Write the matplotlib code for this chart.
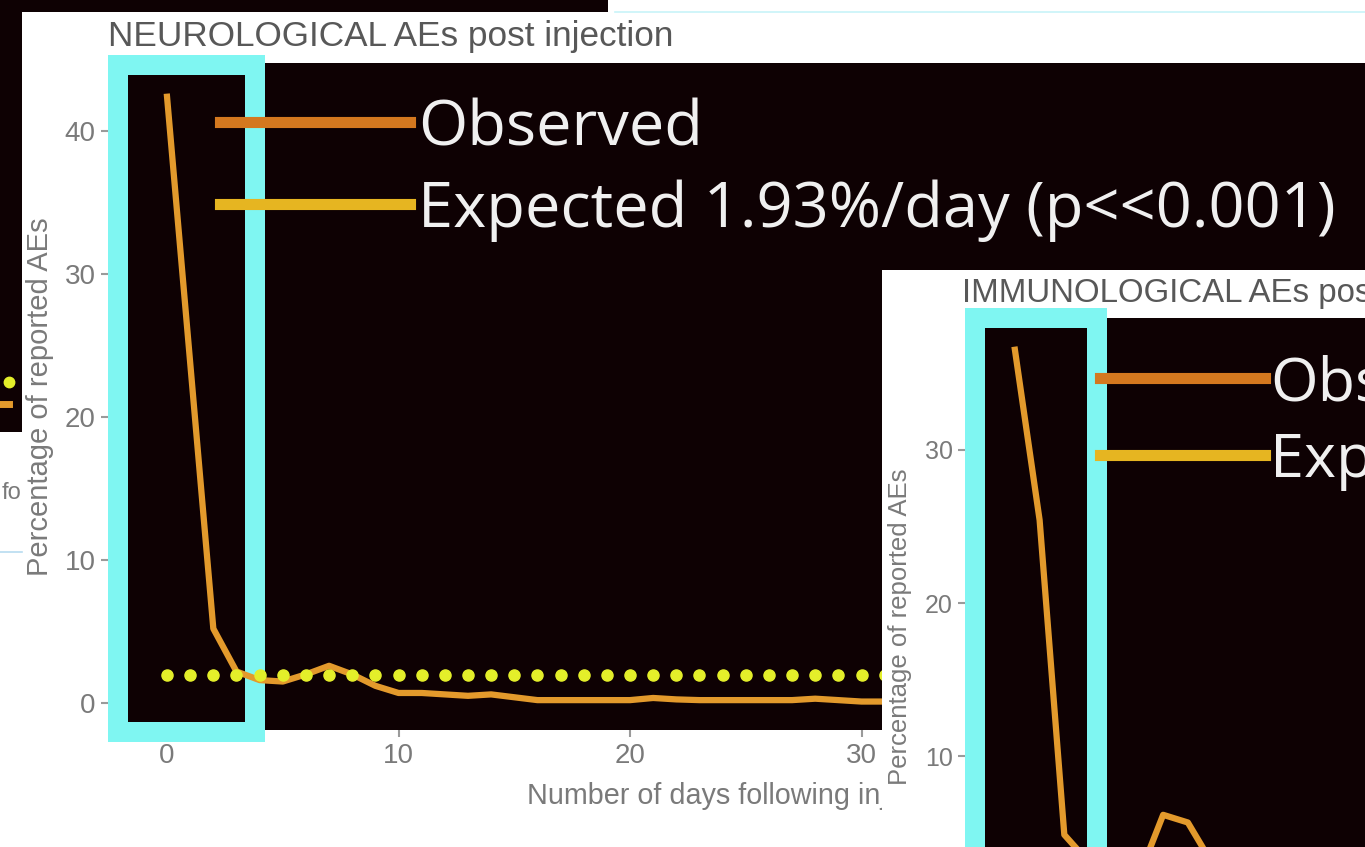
import matplotlib.pyplot as plt
from matplotlib.patches import Rectangle
from matplotlib.lines import Line2D

W, H = 1365, 847

# neurological panel (main)
neuro_days = list(range(0, 51))
neuro_observed = [42.4, 23.8, 5.2, 2.2, 1.6, 1.5, 2.0, 2.6, 2.0, 1.2,
                  0.7, 0.7, 0.6, 0.5, 0.6, 0.4, 0.2, 0.2, 0.2, 0.2,
                  0.2, 0.35, 0.25, 0.2, 0.2, 0.2, 0.2, 0.2, 0.3, 0.2,
                  0.1, 0.1, 0.1, 0.1, 0.1, 0.1, 0.1, 0.1, 0.1, 0.1,
                  0.1, 0.1, 0.1, 0.1, 0.1, 0.1, 0.1, 0.1, 0.1, 0.1, 0.1]
neuro_expected = [1.93] * len(neuro_days)
neuro_yticks = [0, 10, 20, 30, 40]
neuro_xticks = [0, 10, 20, 30, 40, 50]

# immunological panel (overlapping, bottom right)
immune_days = list(range(0, 15))
immune_observed = [36.5, 25.4, 4.9, 3.1, 2.4, 2.1, 6.2, 5.7, 3.0, 2.2,
                   1.8, 1.5, 1.4, 1.2, 1.0]
immune_yticks = [0, 10, 20, 30]

# tail of the previous slide's chart, cut at the left edge
prev_days = [49, 50]
prev_observed = [0.05, 0.05]
prev_expected = [1.5, 1.5]

legend_labels = ["Observed", "Expected 1.93%/day (p<<0.001)"]

DARK = "#0e0103"
CYAN = "#7ff6f2"
ORANGE = "#e39a2c"
LEG_ORANGE = "#d4781f"
GOLD = "#e6b521"
DOT = "#e4ef2a"
GREY = "#7a7a7a"
TITLE = "#585858"


def box(x0, y0, x1, y1):
    return [x0 / W, 1 - y1 / H, (x1 - x0) / W, (y1 - y0) / H]


def fx(x):
    return x / W


def fy(y):
    return 1 - y / H


fig = plt.figure(figsize=(W / 100, H / 100), dpi=100, facecolor=DARK)

# white slide backgrounds
for (x0, y0, x1, y1) in [(608, 0, W, 12), (22, 12, W, H), (0, 432, 22, H)]:
    fig.patches.append(Rectangle((fx(x0), fy(y1)), fx(x1 - x0), (y1 - y0) / H,
                                 transform=fig.transFigure, facecolor="white",
                                 edgecolor="none", zorder=0))
fig.lines.append(Line2D([fx(615), 1], [fy(12), fy(12)], transform=fig.transFigure,
                        color="#c8f4f8", lw=1.2, zorder=0.5))
fig.lines.append(Line2D([0, fx(22)], [fy(552), fy(552)], transform=fig.transFigure,
                        color="#b8dcf0", lw=1.2, zorder=0.5))

# previous chart tail
axp = fig.add_axes(box(0, 0, 22, 432), zorder=0.6)
axp.set_facecolor(DARK)
axp.plot(prev_days, prev_observed, color=ORANGE, lw=5)
axp.plot(prev_days, prev_expected, ls="none", marker="o", ms=7.5, color=DOT)
axp.set_xlim(49.6, 50.6)
axp.set_ylim(-1.8, 27)
axp.axis("off")
fig.text(fx(2), fy(499), "fo", color=GREY, fontsize=17, family="Liberation Sans", zorder=0.7)

# ---- neurological panel ----
ax = fig.add_axes(box(108, 63, W, 730), zorder=1)
ax.set_facecolor(DARK)
ax.plot(neuro_days, neuro_observed, color=ORANGE, lw=4.5, zorder=3,
        solid_joinstyle="round")
ax.plot(neuro_days, neuro_expected, ls="none", marker="o", ms=8, color=DOT, zorder=4)
ax.set_xlim(-2.55, 51.75)
ax.set_ylim(-1.89, 44.76)
ax.set_xticks(neuro_xticks)
ax.set_yticks(neuro_yticks)
for s in ax.spines.values():
    s.set_visible(False)
ax.tick_params(colors="#9a9a9a", labelcolor=GREY, labelsize=20, length=5, width=1.5, pad=4)
for lab in ax.get_xticklabels() + ax.get_yticklabels():
    lab.set_family("Liberation Sans")
ax.add_patch(Rectangle((fx(118), fy(732)), fx(255 - 118), (732 - 65) / H,
                       transform=fig.transFigure, fill=False, edgecolor=CYAN,
                       lw=14.4, clip_on=False, zorder=2))

fig.text(fx(108), fy(46), "NEUROLOGICAL AEs post injection", color=TITLE,
         fontsize=25.3, family="Liberation Sans", zorder=2)
fig.text(fx(527), fy(804), "Number of days following injection", color=GREY,
         fontsize=20.7, family="Liberation Sans", zorder=2)
fig.text(fx(40), fy(397), "Percentage of reported AEs", color=GREY, rotation=90,
         fontsize=21, family="Liberation Sans", ha="center", va="center", zorder=2)

# legend drawn on the slide
for (yl, yb), col, lab in zip([(122, 145), (204, 227)], [LEG_ORANGE, GOLD], legend_labels):
    fig.lines.append(Line2D([fx(220), fx(410)], [fy(yl), fy(yl)], transform=fig.transFigure,
                            color=col, lw=8, zorder=2))
    fig.text(fx(418), fy(yb), lab, color="#f0f0f0", fontsize=45.5, family="Open Sans",
             va="baseline", zorder=2)

# ---- immunological panel ----
fig.patches.append(Rectangle((fx(882), 0), fx(W - 882), (H - 270) / H,
                             transform=fig.transFigure, facecolor="white",
                             edgecolor="none", zorder=5))
fig.text(fx(962), fy(302), "IMMUNOLOGICAL AEs post injection", color=TITLE,
         fontsize=23.8, family="Liberation Sans", zorder=5.1)

ax2 = fig.add_axes(box(965, 318, W, 933), zorder=6)
ax2.set_facecolor(DARK)
ax2.plot(immune_days, immune_observed, color=ORANGE, lw=4.5, zorder=3,
         solid_joinstyle="round")
ax2.set_xlim(-2.02, 14.17)
ax2.set_ylim(-1.5, 38.57)
ax2.set_xticks([])
ax2.set_yticks(immune_yticks)
for s in ax2.spines.values():
    s.set_visible(False)
ax2.tick_params(colors="#9a9a9a", labelcolor=GREY, labelsize=18, length=5, width=1.5, pad=4)
for lab in ax2.get_yticklabels():
    lab.set_family("Liberation Sans")
ax2.add_patch(Rectangle((fx(975), fy(940)), fx(1097 - 975), (940 - 318) / H,
                        transform=fig.transFigure, fill=False, edgecolor=CYAN,
                        lw=14.4, clip_on=False, zorder=2))
fig.text(fx(900), fy(627), "Percentage of reported AEs", color=GREY, rotation=90,
         fontsize=18.5, family="Liberation Sans", ha="center", va="center", zorder=6.1)

for (yl, yb), col, lab in zip([(378, 400), (455, 477)], [LEG_ORANGE, GOLD], legend_labels):
    fig.lines.append(Line2D([fx(1100), fx(1265)], [fy(yl), fy(yl)], transform=fig.transFigure,
                            color=col, lw=8, zorder=6.2))
    fig.text(fx(1270), fy(yb), lab, color="#f0f0f0", fontsize=44, family="Open Sans",
             va="baseline", zorder=6.2)

fig.savefig("out.png", dpi=100, facecolor=DARK)
